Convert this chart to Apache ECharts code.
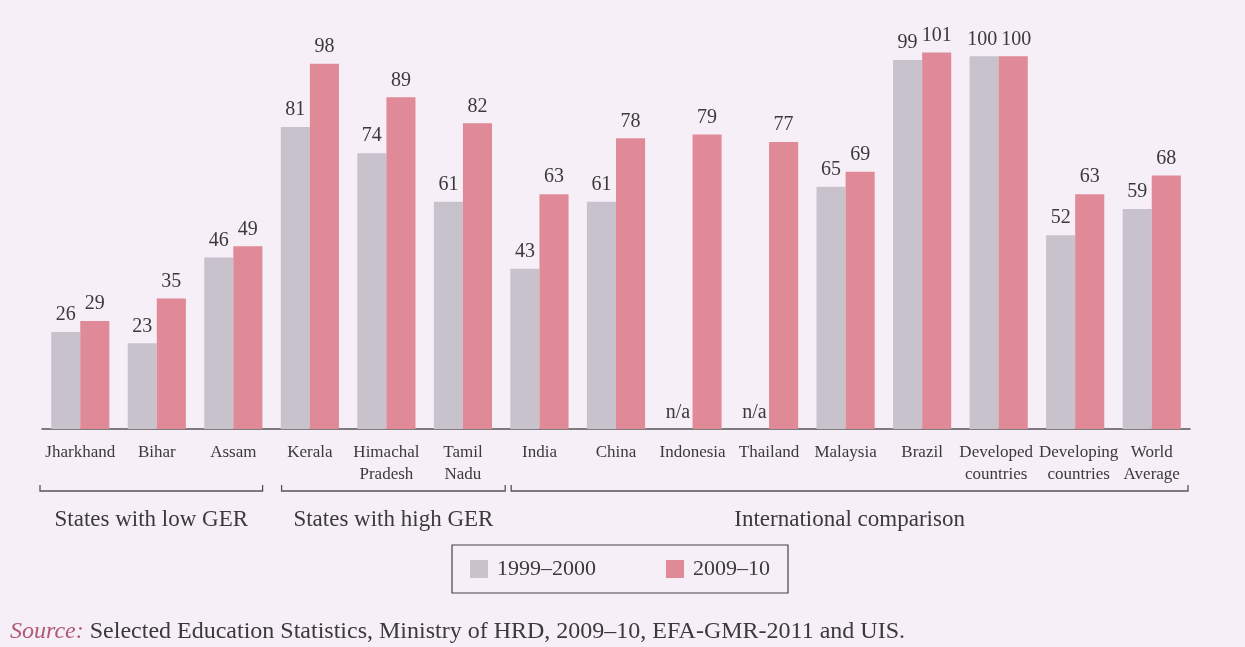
<!DOCTYPE html>
<html>
<head>
<meta charset="utf-8">
<script src="https://cdn.jsdelivr.net/npm/echarts@6/dist/echarts.min.js"></script>
<style>
  html, body { margin: 0; padding: 0; background: #f7eff7; }
  #chart { width: 1245px; height: 647px; }
</style>
</head>
<body>
<div id="chart"></div>
<script>
// Gross enrolment ratio, states and international comparison
const categories = [
  'Jharkhand', 'Bihar', 'Assam', 'Kerala', 'Himachal\nPradesh', 'Tamil\nNadu',
  'India', 'China', 'Indonesia', 'Thailand', 'Malaysia', 'Brazil',
  'Developed\ncountries', 'Developing\ncountries', 'World\nAverage'
];
const ger1999 = [26, 23, 46, 81, 74, 61, 43, 61, null, null, 65, 99, 100, 52, 59];
const ger2009 = [29, 35, 49, 98, 89, 82, 63, 78, 79, 77, 69, 101, 100, 63, 68];
const seriesNames = ['1999–2000', '2009–10'];
const groups = [
  { name: 'States with low GER', from: 0, to: 2 },
  { name: 'States with high GER', from: 3, to: 5 },
  { name: 'International comparison', from: 6, to: 14 }
];
const missingText = 'n/a';

const FONT = '"Liberation Serif", "DejaVu Serif", serif';
const TEXT = '#3a3a3a';
const GRAY = '#c8c2cd';
const RED = '#df8a96';

const chart = echarts.init(document.getElementById('chart'));

// Three-digit label pairs are pushed apart a little so they don't run together
const wide = (a, b) => a !== null && a >= 100 && b >= 100;

// Missing values become empty bars that carry an "n/a" label
const grayData = ger1999.map((v, i) => {
  if (v === null) return { value: 0, label: { formatter: missingText, distance: 6 } };
  if (wide(v, ger2009[i])) return { value: v, label: { offset: [-2, 0] } };
  return v;
});
const redData = ger2009.map((v, i) =>
  wide(ger1999[i], v) ? { value: v, label: { offset: [3, 0] } } : v);

const valueLabel = {
  show: true, position: 'top', distance: 7,
  fontFamily: FONT, fontSize: 20, color: TEXT
};

// Adjacent two-line labels that would touch get nudged apart
const labelShift = { 'Developed\ncountries': 'l', 'Developing\ncountries': 'r' };

chart.setOption({
  backgroundColor: '#f7eff7',
  animation: false,
  grid: { left: 42, right: 55, top: 19, bottom: 218 },
  legend: {
    bottom: 54, left: 452,
    data: seriesNames,
    itemWidth: 18, itemHeight: 18, itemGap: 70,
    icon: 'rect',
    padding: [13, 18, 13, 18],
    borderColor: '#444', borderWidth: 1.2,
    textStyle: { fontFamily: FONT, fontSize: 22, color: TEXT, padding: [0, 0, 0, 4] }
  },
  xAxis: {
    type: 'category',
    data: categories,
    axisLine: { lineStyle: { color: '#555', width: 1.5 } },
    axisTick: { show: false },
    axisLabel: {
      interval: 0, margin: 13, fontFamily: FONT, fontSize: 17,
      lineHeight: 22, color: TEXT, align: 'center',
      formatter: v => {
        const k = labelShift[v];
        if (!k) return v;
        return v.split('\n').map(line => '{' + k + '|' + line + '}').join('\n');
      },
      rich: {
        l: { fontFamily: FONT, fontSize: 17, lineHeight: 22, color: TEXT, padding: [0, 5, 0, 0] },
        r: { fontFamily: FONT, fontSize: 17, lineHeight: 22, color: TEXT, padding: [0, 0, 0, 7] }
      }
    }
  },
  yAxis: { type: 'value', min: 0, max: 110, show: false, splitLine: { show: false } },
  series: [
    {
      name: seriesNames[0], type: 'bar', data: grayData,
      barGap: '0%', barCategoryGap: '24%',
      itemStyle: { color: GRAY }, label: valueLabel
    },
    {
      name: seriesNames[1], type: 'bar', data: redData,
      itemStyle: { color: RED }, label: valueLabel
    }
  ]
});

// Group brackets under the category labels, placed from the axis scale
function bandEdges(idx) {
  const c = chart.convertToPixel({ xAxisIndex: 0 }, idx);
  const next = chart.convertToPixel({ xAxisIndex: 0 }, Math.min(idx + 1, categories.length - 1));
  const prev = chart.convertToPixel({ xAxisIndex: 0 }, Math.max(idx - 1, 0));
  const w = idx + 1 < categories.length ? next - c : c - prev;
  return [c - w / 2, c + w / 2];
}
// horizontal insets of each bracket from its band edges
const bracketInset = [[-2, 9], [10, -4], [10, 2]];
const lineY = 491, tickH = 6, labelY = 520;
const graphics = [];
groups.forEach((g, i) => {
  const x0 = bandEdges(g.from)[0] + bracketInset[i][0];
  const x1 = bandEdges(g.to)[1] - bracketInset[i][1];
  graphics.push({
    type: 'polyline',
    shape: { points: [[x0, lineY - tickH], [x0, lineY], [x1, lineY], [x1, lineY - tickH]] },
    style: { stroke: '#555', lineWidth: 1.3, fill: null }
  });
  graphics.push({
    type: 'text', x: (x0 + x1) / 2, y: labelY,
    style: {
      text: g.name, fontFamily: FONT, fontSize: 23, fill: TEXT,
      align: 'center', verticalAlign: 'middle'
    }
  });
});
graphics.push({
  type: 'text', left: 10, top: 620,
  style: {
    rich: {
      s: { fontFamily: FONT, fontStyle: 'italic', fontSize: 24, fill: '#b05a72' },
      t: { fontFamily: FONT, fontSize: 24, fill: TEXT }
    },
    text: '{s|Source:}{t| Selected Education Statistics, Ministry of HRD, 2009–10, EFA-GMR-2011 and UIS.}'
  }
});
chart.setOption({ graphic: graphics });
</script>
</body>
</html>
